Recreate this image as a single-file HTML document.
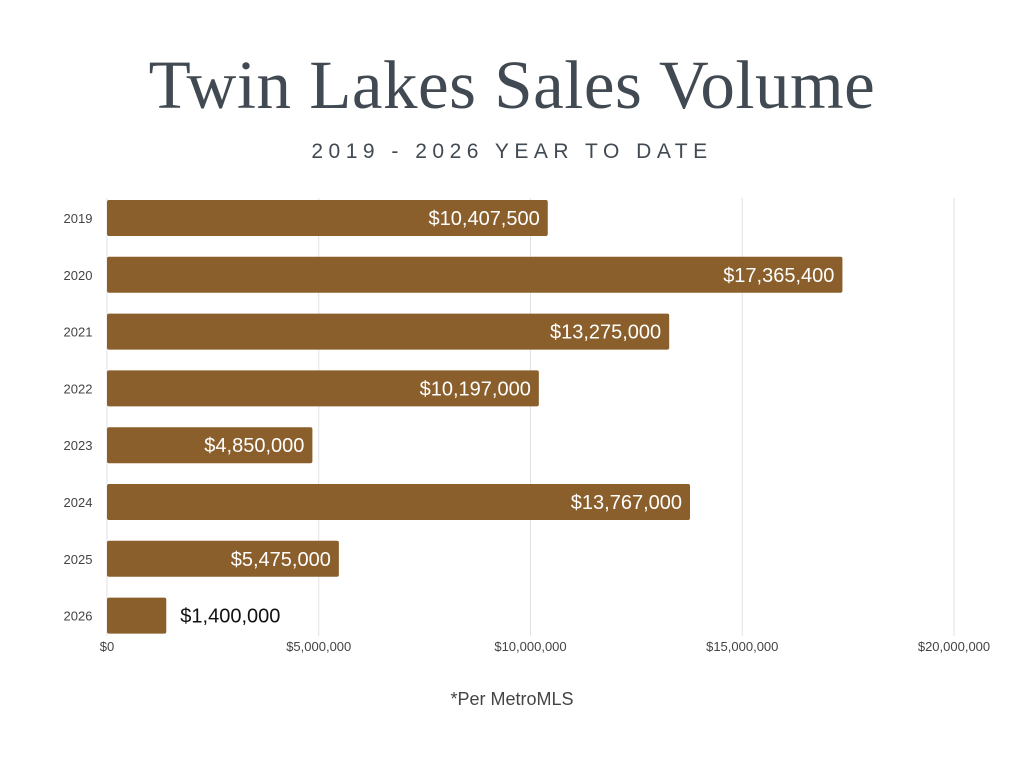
<!DOCTYPE html>
<html><head><meta charset="utf-8"><style>
body{margin:0;width:1024px;height:768px;background:#fff;overflow:hidden;font-family:"Liberation Sans",sans-serif;}
#title{position:absolute;top:46px;left:0;width:1024px;text-align:center;font-family:"Liberation Serif",serif;font-size:69px;color:#414a52;letter-spacing:0.5px;}
#sub{position:absolute;top:140px;left:0;width:1024px;text-align:center;font-size:21px;letter-spacing:5.5px;color:#414a52;}
#note{position:absolute;top:689px;left:0;width:1024px;text-align:center;font-size:18px;color:#444;}
svg{position:absolute;left:0;top:0;}
</style></head><body>
<div id="title">Twin Lakes Sales Volume</div>
<div id="sub">2019 - 2026 YEAR TO DATE</div>
<svg id="chart" width="1024" height="768"></svg>
<div id="note">*Per MetroMLS</div>
<script>
const categories=["2019","2020","2021","2022","2023","2024","2025","2026"];
const values=[10407500,17365400,13275000,10197000,4850000,13767000,5475000,1400000];
const labels=["$10,407,500","$17,365,400","$13,275,000","$10,197,000","$4,850,000","$13,767,000","$5,475,000","$1,400,000"];
const ticks=[0,5000000,10000000,15000000,20000000];
const tickLabels=["$0","$5,000,000","$10,000,000","$15,000,000","$20,000,000"];
const svg=document.getElementById('chart');const NS="http://www.w3.org/2000/svg";
const x0=107,x1=954,top0=200,step=56.8,bh=36;
const x=v=>x0+(v/20000000)*(x1-x0);
const y=i=>top0+i*step;
function mk(t,a,txt){const e=document.createElementNS(NS,t);for(const k in a)e.setAttribute(k,a[k]);if(txt)e.textContent=txt;svg.appendChild(e);return e;}
ticks.forEach((t,i)=>{
 const g=mk('line',{x1:x(t),x2:x(t),y1:198,y2:636,stroke:'#e2e2e2','stroke-width':1});
 
 
 const l=mk('text',{x:x(t),y:651,'text-anchor':'middle','font-size':13,fill:'#444','font-family':'Liberation Sans'},tickLabels[i]);
 
 
});
categories.forEach((c,i)=>{
 const yl=mk('text',{x:78,y:y(i)+bh/2+5,'text-anchor':'middle','font-size':13,fill:'#444'},c);
 
 
 const w=x(values[i])-x0;
 const r=mk('rect',{x:x0,y:y(i),width:w,height:bh,rx:2,fill:'#8a5f2c'});
 
 
 const inside=w>150;
 const t=mk('text',{x:inside?x(values[i])-8:x(values[i])+14,y:y(i)+bh/2+7,'text-anchor':inside?'end':'start','font-size':20,fill:inside?'#fff':'#111'},labels[i]);
 
 
});
</script>
</body></html>
